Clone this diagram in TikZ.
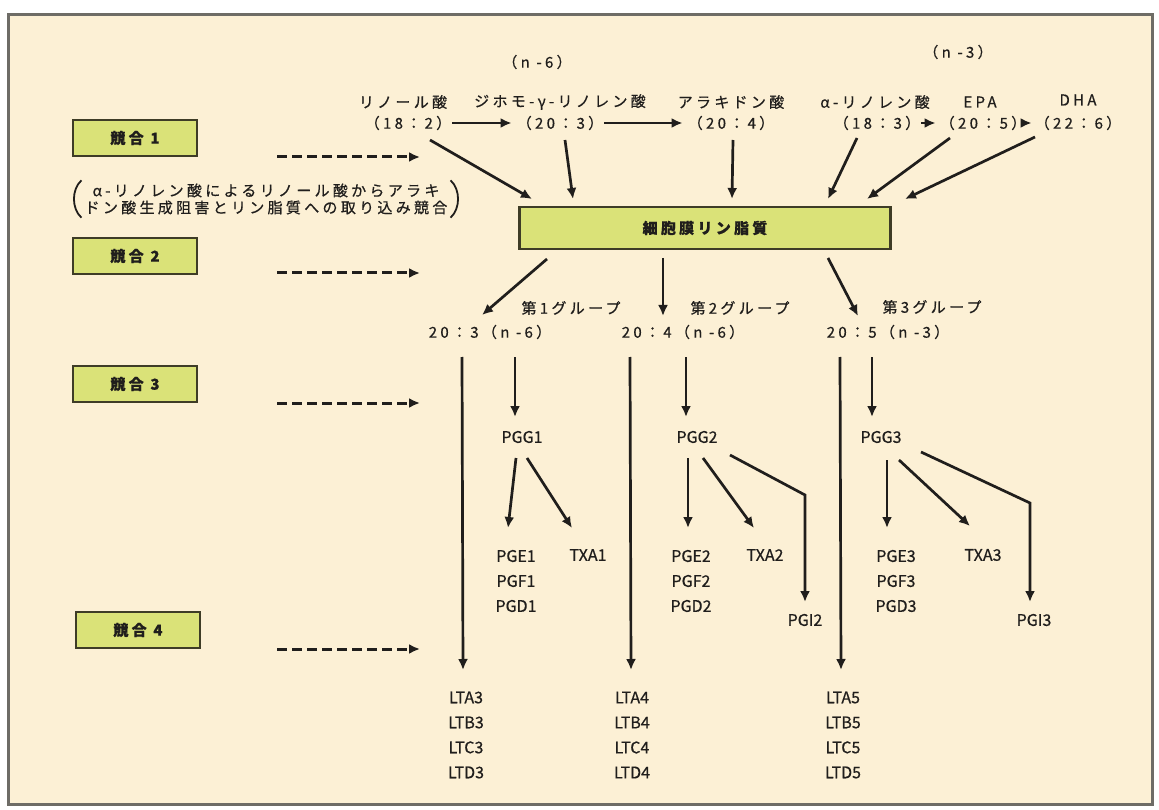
\documentclass[tikz,border=0pt]{standalone}
\usepackage{fontspec}
\setmainfont[FakeBold=0.6]{Noto Sans CJK JP}
\newfontfamily\jpsp[LetterSpace=22,FakeBold=0.6]{Noto Sans CJK JP}
\usetikzlibrary{arrows.meta}
\definecolor{bg}{RGB}{252,240,213}
\definecolor{boxfill}{RGB}{218,226,120}
\definecolor{boxline}{RGB}{62,60,38}
\definecolor{ink}{RGB}{32,30,28}
\definecolor{frame}{RGB}{110,108,102}
\begin{document}
\begin{tikzpicture}[x=1pt,y=-1pt,
  every node/.style={text=ink, inner sep=0pt},
  jp/.style={font=\jpsp\fontsize{15}{18}\selectfont},
  lat/.style={font=\fontsize{16}{25}\selectfont, align=center},
  kbox/.style={draw=boxline, fill=boxfill, line width=2.8pt, minimum width=124pt, minimum height=36pt, font=\jpsp\fontsize{15}{18}\selectfont\bfseries},
  arr/.style={draw=ink, line width=2.7pt, -{Latex[length=11pt,width=10pt]}},
  line/.style={draw=ink, line width=2.7pt},
  darr/.style={draw=ink, line width=3pt, dash pattern=on 10pt off 5pt, -{Latex[length=11pt,width=10pt]}},
]
\useasboundingbox (0,0) rectangle (1159,810);
\fill[white] (0,0) rectangle (1159,810);
\draw[fill=bg, draw=frame, line width=3pt] (8,15) rectangle (1152,804);

% competition boxes
\node[kbox] (k1) at (135,138) {競合 1};
\node[kbox] (k2) at (135,256) {競合 2};
\node[kbox] (k3) at (135,384) {競合 3};
\node[kbox] (k4) at (138,630) {競合 4};

\coordinate (d1s) at (277,157); \coordinate (d1e) at (420,157);
\coordinate (d2s) at (277,273); \coordinate (d2e) at (420,273);
\coordinate (d3s) at (277,403); \coordinate (d3e) at (420,403);
\coordinate (d4s) at (277,649); \coordinate (d4e) at (420,649);
\draw[darr] (d1s) -- (d1e);
\draw[darr] (d2s) -- (d2e);
\draw[darr] (d3s) -- (d3e);
\draw[darr] (d4s) -- (d4e);

% note with parentheses
\node[jp, align=center, font=\jpsp\fontsize{15}{17}\selectfont] (note) at (266,199) {α-リノレン酸によるリノール酸からアラキ\\ドン酸生成阻害とリン脂質への取り込み競合};
\draw[line, line width=1.8pt] ([xshift=-3pt,yshift=3pt]note.north west) .. controls ([xshift=-13pt,yshift=-6pt]note.north west) and ([xshift=-13pt,yshift=6pt]note.south west) .. ([xshift=-3pt,yshift=-3pt]note.south west);
\draw[line, line width=1.8pt] ([xshift=3pt,yshift=3pt]note.north east) .. controls ([xshift=13pt,yshift=-6pt]note.north east) and ([xshift=13pt,yshift=6pt]note.south east) .. ([xshift=3pt,yshift=-3pt]note.south east);

% series labels
\node[jp] (n6) at (537,62) {（n -6）};
\node[jp] (n3) at (958,52) {（n -3）};

% fatty acids
\node[jp] (la)   at (403,102) {リノール酸};
\node[jp] (la2)  at (408,123) {（18：2）};
\node[jp] (dg)   at (560,102) {ジホモ-γ-リノレン酸};
\node[jp] (dg2)  at (560,123) {（20：3）};
\node[jp] (aa)   at (731,102) {アラキドン酸};
\node[jp] (aa2)  at (731,123) {（20：4）};
\node[jp] (al)   at (875,102) {α-リノレン酸};
\node[jp] (al2)  at (877,123) {（18：3）};
\node[jp] (epa)  at (980,102) {EPA};
\node[jp] (epa2) at (983,123) {（20：5）};
\node[jp] (dha)  at (1078,100) {DHA};
\node[jp] (dha2) at (1078,123) {（22：6）};

\draw[arr, shorten <=1pt, shorten >=5pt] (la2) -- (dg2);
\draw[arr, shorten <=1pt, shorten >=5pt] (dg2) -- (aa2);
\draw[arr, shorten <=1pt, shorten >=4pt] (al2) -- (epa2);
\draw[arr, shorten <=1pt, shorten >=3pt] (epa2) -- (dha2);

% membrane phospholipid
\node[draw=boxline, fill=boxfill, line width=2.8pt, minimum width=371pt, minimum height=42pt, font=\jpsp\fontsize{15}{18}\selectfont\bfseries] (mem) at (705,228) {細胞膜リン脂質};

\coordinate (s1) at (430,140); \coordinate (t1) at (532,199);
\coordinate (s2) at (565,140); \coordinate (t2) at (573,199);
\coordinate (s3) at (733,140); \coordinate (t3) at (732,199);
\coordinate (s4) at (857,138); \coordinate (t4) at (828,199);
\coordinate (s5) at (950,138); \coordinate (t5) at (867,199);
\coordinate (s6) at (1035,137); \coordinate (t6) at (905,199);
\draw[arr] (s1) -- (t1);
\draw[arr] (s2) -- (t2);
\draw[arr] (s3) -- (t3);
\draw[arr] (s4) -- (t4);
\draw[arr] (s5) -- (t5);
\draw[arr] (s6) -- (t6);

% groups
\node[jp] (g1t) at (571,308) {第1グループ};
\node[jp] (g1)  at (490,332) {20：3（n -6）};
\node[jp] (g2t) at (740,308) {第2グループ};
\node[jp] (g2)  at (683,332) {20：4（n -6）};
\node[jp] (g3t) at (932,307) {第3グループ};
\node[jp] (g3)  at (888,332) {20：5（n -3）};

\coordinate (m1) at (547,259); \coordinate (q1) at (482,315);
\coordinate (m2) at (663,258); \coordinate (q2) at (663,316);
\coordinate (m3) at (828,258); \coordinate (q3) at (858,316);
\draw[arr] (m1) -- (q1);
\draw[arr] (m2) -- (q2);
\draw[arr] (m3) -- (q3);

% PGG
\node[lat] (p1) at (522,437) {PGG1};
\node[lat] (p2) at (697,437) {PGG2};
\node[lat] (p3) at (881,437) {PGG3};

\coordinate (a1) at (515,357); \coordinate (b1) at (515,417);
\coordinate (a2) at (686,357); \coordinate (b2) at (686,417);
\coordinate (a3) at (872,357); \coordinate (b3) at (872,417);
\draw[arr] (a1) -- (b1);
\draw[arr] (a2) -- (b2);
\draw[arr] (a3) -- (b3);

% products
\node[lat] (e1) at (516,581) {PGE1\\PGF1\\PGD1};
\node[lat] (x1) at (588,555) {TXA1};
\node[lat] (e2) at (691,581) {PGE2\\PGF2\\PGD2};
\node[lat] (x2) at (765,555) {TXA2};
\node[lat] (i2) at (805,620) {PGI2};
\node[lat] (e3) at (896,581) {PGE3\\PGF3\\PGD3};
\node[lat] (x3) at (983,555) {TXA3};
\node[lat] (i3) at (1034,620) {PGI3};

\coordinate (c11) at (516,458); \coordinate (c12) at (508,528);
\coordinate (c13) at (527,458); \coordinate (c14) at (572,528);
\coordinate (c21) at (688,458); \coordinate (c22) at (688,528);
\coordinate (c23) at (703,458); \coordinate (c24) at (754,528);
\coordinate (c25) at (730,455); \coordinate (c26) at (805,495); \coordinate (c27) at (805,602);
\coordinate (c31) at (887,460); \coordinate (c32) at (887,528);
\coordinate (c33) at (899,460); \coordinate (c34) at (970,526);
\coordinate (c35) at (921,452); \coordinate (c36) at (1030,503); \coordinate (c37) at (1030,602);
\draw[arr] (c11) -- (c12);
\draw[arr] (c13) -- (c14);
\draw[arr] (c21) -- (c22);
\draw[arr] (c23) -- (c24);
\draw[arr] (c25) -- (c26) -- (c27);
\draw[arr] (c31) -- (c32);
\draw[arr] (c33) -- (c34);
\draw[arr] (c35) -- (c36) -- (c37);

% leukotrienes
\node[lat] (l3) at (466,735) {LTA3\\LTB3\\LTC3\\LTD3};
\node[lat] (l4) at (632,735) {LTA4\\LTB4\\LTC4\\LTD4};
\node[lat] (l5) at (843,735) {LTA5\\LTB5\\LTC5\\LTD5};

\coordinate (v1) at (462,357); \coordinate (w1) at (463,670);
\coordinate (v2) at (630,357); \coordinate (w2) at (631,670);
\coordinate (v3) at (840,357); \coordinate (w3) at (841,670);
\draw[arr] (v1) -- (w1);
\draw[arr] (v2) -- (w2);
\draw[arr] (v3) -- (w3);
\end{tikzpicture}
\end{document}
